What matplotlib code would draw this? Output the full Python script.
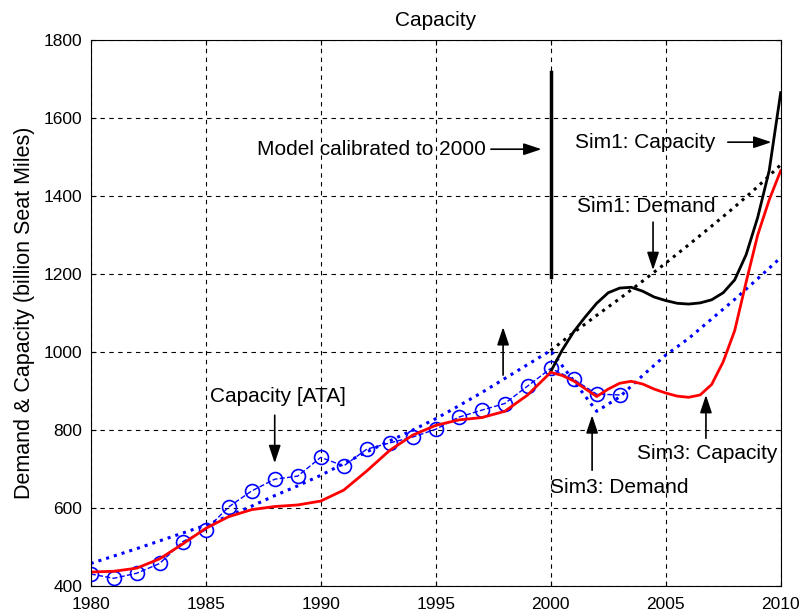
import matplotlib
matplotlib.use('Agg')
import matplotlib.pyplot as plt

plt.rcParams['font.family'] = ['Liberation Sans', 'DejaVu Sans']

# Capacity [ATA] (historical, circles)
ata_years = list(range(1980, 2004))
ata_vals = [431, 420, 433, 458, 514, 544, 603, 644, 674, 682, 730, 708, 751,
            767, 782, 802, 833, 851, 868, 913, 958, 930, 892, 890]

# Sim3 demand (blue dotted)
dem3_years = list(range(1980, 2011))
dem3_vals = [458, 477, 496, 516, 536, 556, 580, 605, 632, 657, 684, 714, 744,
             772, 800, 829, 862, 896, 932, 968, 1004, 926, 848, 885, 940, 992,
             1035, 1085, 1135, 1188, 1242]

# Sim1 demand (black dotted)
dem1_years = list(range(2000, 2011))
dem1_vals = [1004, 1050, 1094, 1137, 1182, 1228, 1275, 1323, 1372, 1424, 1480]

# Sim1 capacity (black solid)
cap1_years = [2000, 2000.5, 2001, 2001.5, 2002, 2002.5, 2003, 2003.5, 2004,
              2004.5, 2005, 2005.5, 2006, 2006.5, 2007, 2007.5, 2008, 2008.5,
              2009, 2009.5, 2010]
cap1_vals = [950, 1005, 1052, 1090, 1125, 1152, 1164, 1166, 1156, 1141, 1132,
             1125, 1123, 1126, 1134, 1152, 1185, 1250, 1345, 1465, 1665]

# Sim3 capacity (red solid)
cap3_years = list(range(1980, 2000)) + [2000, 2000.5, 2001, 2001.5, 2002,
              2002.5, 2003, 2003.5, 2004, 2004.5, 2005, 2005.5, 2006, 2006.5,
              2007, 2007.5, 2008, 2008.5, 2009, 2009.5, 2010]
cap3_vals = [436, 438, 446, 470, 508, 548, 578, 596, 604, 608, 618, 646, 695,
             748, 787, 812, 826, 832, 848, 890, 948, 940, 926, 906, 886, 905,
             920, 925, 918, 905, 895, 887, 884, 890, 917, 975, 1055, 1180,
             1300, 1390, 1465]

fig = plt.figure(figsize=(8.05, 6.15), dpi=100)
ax = fig.add_axes([0.1127, 0.047, 0.8571, 0.888])

ax.plot(dem3_years, dem3_vals, ':', color='blue', lw=2.2)
ax.plot(dem1_years, dem1_vals, ':', color='black', lw=2.2)
ax.plot(ata_years, ata_vals, 'o--', color='blue', mfc='none', ms=10, lw=1, mew=1.2)
ax.plot(cap1_years, cap1_vals, '-', color='black', lw=2)
ax.plot(cap3_years, cap3_vals, '-', color='red', lw=2)

# calibration marker
ax.plot([2000, 2000], [1193, 1719], '-', color='black', lw=2.5)

ax.set_xlim(1980, 2010)
ax.set_ylim(400, 1800)
ax.set_xticks(range(1980, 2011, 5))
ax.set_yticks(range(400, 1801, 200))
ax.grid(True, linestyle=(0, (4, 4)), color='black', lw=0.8)
ax.tick_params(direction='in', top=True, right=True, labelsize=12.5)
ax.tick_params(axis='x', pad=8)
ax.tick_params(axis='y', pad=6)
ax.set_title('Capacity', fontsize=15, pad=10)
ax.set_ylabel('Demand & Capacity (billion Seat Miles)', fontsize=15.5, labelpad=6)

arw = dict(arrowstyle='-|>,head_length=0.9,head_width=0.3', color='black',
           lw=1.2, mutation_scale=12, shrinkA=0, shrinkB=0)
fs = 15

ax.annotate('', xy=(1999.6, 1520), xytext=(1997.4, 1520), arrowprops=arw)
ax.text(1997.2, 1520, 'Model calibrated to 2000', fontsize=fs, ha='right', va='center')

ax.annotate('', xy=(2009.6, 1538), xytext=(2007.7, 1538), arrowprops=arw)
ax.text(2001.05, 1538, 'Sim1: Capacity', fontsize=fs, ha='left', va='center')

ax.annotate('', xy=(2004.45, 1210), xytext=(2004.45, 1333), arrowprops=arw)
ax.text(2001.15, 1374, 'Sim1: Demand', fontsize=fs, ha='left', va='center')

ax.annotate('', xy=(1988.0, 715), xytext=(1988.0, 838), arrowprops=arw)
ax.text(1985.2, 887, 'Capacity [ATA]', fontsize=fs, ha='left', va='center')

ax.annotate('', xy=(1997.93, 1064), xytext=(1997.93, 941), arrowprops=arw)

ax.annotate('', xy=(2001.8, 838), xytext=(2001.8, 697), arrowprops=arw)
ax.text(1999.97, 654, 'Sim3: Demand', fontsize=fs, ha='left', va='center')

ax.annotate('', xy=(2006.75, 890), xytext=(2006.75, 779), arrowprops=arw)
ax.text(2003.75, 741, 'Sim3: Capacity', fontsize=fs, ha='left', va='center')

fig.savefig('out.png', dpi=100)
